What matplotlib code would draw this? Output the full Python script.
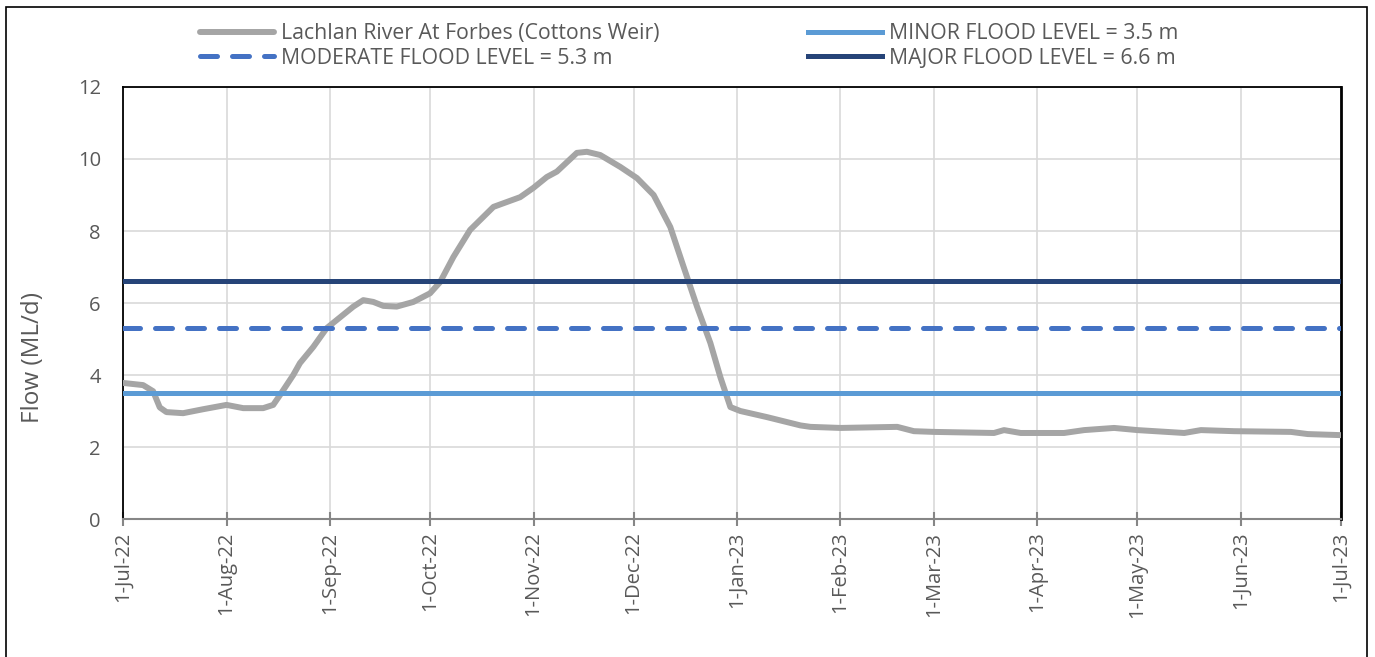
import matplotlib
matplotlib.use("Agg")
import matplotlib.pyplot as plt
import matplotlib.dates as mdates
from matplotlib.patches import Rectangle
import pandas as pd

plt.rcParams["font.family"] = ["Open Sans", "DejaVu Sans"]

# Daily flow trace, Lachlan River at Forbes (Cottons Weir)
dates = ["2022-07-01", "2022-07-07", "2022-07-10", "2022-07-12", "2022-07-14",
         "2022-07-19", "2022-07-25", "2022-08-01", "2022-08-06", "2022-08-12",
         "2022-08-15", "2022-08-17", "2022-08-21", "2022-08-23", "2022-08-27",
         "2022-08-31", "2022-09-04", "2022-09-08", "2022-09-11", "2022-09-14",
         "2022-09-17", "2022-09-21", "2022-09-26", "2022-10-01", "2022-10-04",
         "2022-10-08", "2022-10-13", "2022-10-20", "2022-10-28", "2022-11-01",
         "2022-11-05", "2022-11-08", "2022-11-14", "2022-11-17", "2022-11-21",
         "2022-11-27", "2022-12-02", "2022-12-07", "2022-12-12", "2022-12-16",
         "2022-12-20", "2022-12-24", "2022-12-27", "2022-12-30", "2023-01-02",
         "2023-01-10", "2023-01-20", "2023-01-23", "2023-02-01", "2023-02-18",
         "2023-02-23", "2023-03-01", "2023-03-19", "2023-03-22", "2023-03-27",
         "2023-04-09", "2023-04-15", "2023-04-24", "2023-05-01", "2023-05-15",
         "2023-05-20", "2023-05-30", "2023-06-16", "2023-06-21", "2023-07-01"]
flow = [3.78, 3.72, 3.55, 3.1, 2.97,
        2.94, 3.05, 3.17, 3.08, 3.08,
        3.17, 3.44, 4.0, 4.33, 4.78,
        5.3, 5.6, 5.9, 6.08, 6.03,
        5.92, 5.9, 6.03, 6.27, 6.58,
        7.28, 8.03, 8.67, 8.94, 9.2,
        9.5, 9.65, 10.17, 10.2, 10.11,
        9.78, 9.47, 9.0, 8.11, 7.0,
        5.9, 4.89, 3.94, 3.11, 3.0,
        2.83, 2.6, 2.56, 2.53, 2.56,
        2.44, 2.42, 2.39, 2.47, 2.39,
        2.39, 2.47, 2.53, 2.47, 2.39,
        2.47, 2.44, 2.42, 2.36, 2.33]

minor_level = 3.5
moderate_level = 5.3
major_level = 6.6

t = pd.to_datetime(dates)
start, end = pd.Timestamp("2022-07-01"), pd.Timestamp("2023-07-01")

fig = plt.figure(figsize=(13.75, 6.57), dpi=100)
ax = fig.add_axes([0.0895, 0.21, 0.8858, 0.6576])

grey_txt = "#595959"

h_flow, = ax.plot(t, flow, color="#A5A5A5", linewidth=4.3, solid_capstyle="round",
                  label="Lachlan River At Forbes (Cottons Weir)", zorder=3)
h_minor = ax.axhline(minor_level, color="#5B9BD5", linewidth=3.6,
                     label="MINOR FLOOD LEVEL = 3.5 m", zorder=4)
h_mod = ax.axhline(moderate_level, color="#4472C4", linewidth=3.6,
                   linestyle=(0, (3.4, 3.0)), dash_capstyle="round",
                   label="MODERATE FLOOD LEVEL = 5.3 m", zorder=4)
h_major = ax.axhline(major_level, color="#264478", linewidth=3.6,
                     label="MAJOR FLOOD LEVEL = 6.6 m", zorder=4)

ax.set_xlim(start, end)
ax.set_ylim(0, 12)
ax.set_yticks(range(0, 13, 2))

ax.xaxis.set_major_locator(mdates.MonthLocator())
ax.xaxis.set_major_formatter(
    plt.FuncFormatter(lambda v, pos: (lambda d: f"{d.day}-{d.strftime('%b-%y')}")(mdates.num2date(v))))
plt.setp(ax.get_xticklabels(), rotation=90)

ax.grid(True, color="#D9D9D9", linewidth=1.2, zorder=0)
ax.set_axisbelow(True)

ax.tick_params(axis="x", direction="inout", length=10, width=1.5, color="#868686",
               labelsize=14.5, labelcolor=grey_txt, pad=4)
ax.tick_params(axis="y", length=0, labelsize=14.5, labelcolor=grey_txt, pad=16)

for side in ["left", "top", "right"]:
    ax.spines[side].set_color("black")
    ax.spines[side].set_linewidth(1.3)
ax.spines["right"].set_linewidth(2)
ax.spines["bottom"].set_color("#868686")
ax.spines["bottom"].set_linewidth(1.5)

ax.set_ylabel("Flow (ML/d)", fontsize=17.5, color=grey_txt)
ax.yaxis.set_label_coords(-0.064, 0.375)

leg = fig.legend([h_flow, h_mod, h_minor, h_major],
                 [h.get_label() for h in [h_flow, h_mod, h_minor, h_major]],
                 ncol=2, loc="upper left", bbox_to_anchor=(200 / 1375, 1 - 23 / 657),
                 frameon=False, borderpad=0, borderaxespad=0, fontsize=15.3,
                 handlelength=3.5, handletextpad=0.3, columnspacing=7.0,
                 labelspacing=0.18, labelcolor=grey_txt)

# thin frame round the whole chart area
fig.patches.append(Rectangle((6 / 1375, -0.02), 1361 / 1375, 1.02 - 7 / 657,
                             transform=fig.transFigure, fill=False,
                             edgecolor="black", linewidth=1.2))

fig.savefig("out.png", dpi=100)
